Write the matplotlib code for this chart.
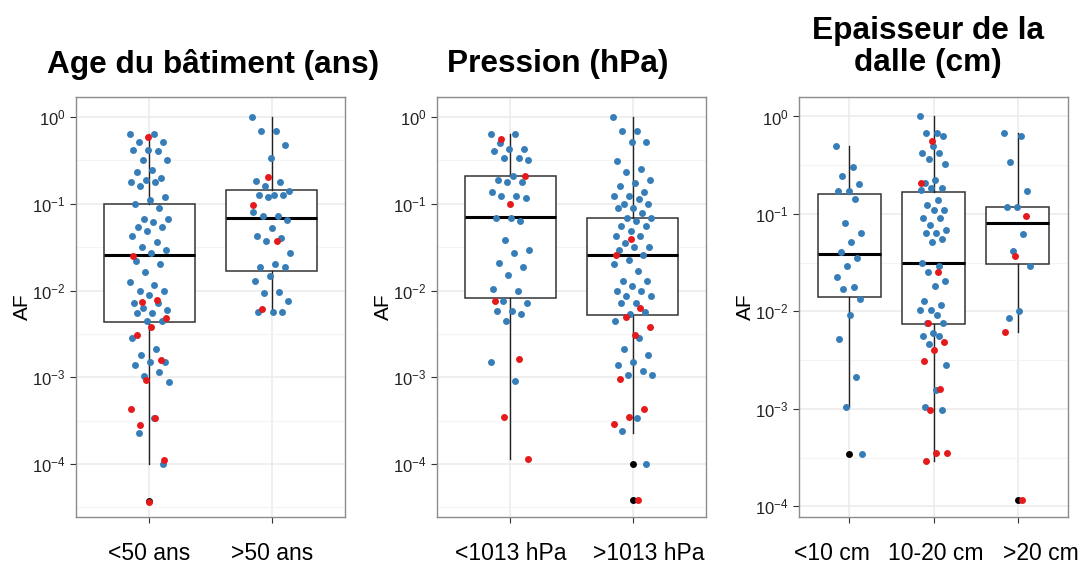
import numpy as np
import matplotlib
matplotlib.use("Agg")
import matplotlib.pyplot as plt
from matplotlib.ticker import FixedLocator, LogFormatterSciNotation, NullFormatter

plt.rcParams['font.family'] = ['Liberation Sans', 'DejaVu Sans']
plt.rcParams['mathtext.default'] = 'regular'
plt.rcParams['axes.unicode_minus'] = False

BLUE = "#377EB8"
RED = "#E41A1C"

# ---- Age du batiment
age_labels = ["<50 ans", ">50 ans"]
age_blue = [
    [0.63, 0.63, 0.52, 0.52, 0.42, 0.42, 0.40, 0.32, 0.32, 0.245, 0.23, 0.20, 0.19, 0.18, 0.18,
     0.158, 0.118, 0.110, 0.10, 0.089, 0.066, 0.066, 0.062, 0.054, 0.054, 0.048, 0.042, 0.036,
     0.032, 0.029, 0.027, 0.022, 0.020, 0.0165, 0.0126, 0.0115, 0.010, 0.010, 0.0089, 0.0071,
     0.0071, 0.0063, 0.0059, 0.0055, 0.0055, 0.0044, 0.0044, 0.0028, 0.0021, 0.0018, 0.0015,
     0.0015, 0.00138, 0.00115, 0.00103, 0.00089, 0.00034, 0.00023, 0.0001],
    [1.0, 0.68, 0.68, 0.48, 0.34, 0.184, 0.177, 0.162, 0.14, 0.126, 0.126, 0.126, 0.12, 0.081,
     0.072, 0.072, 0.065, 0.052, 0.043, 0.040, 0.037, 0.027, 0.020, 0.0185, 0.0185, 0.0148,
     0.013, 0.0097, 0.0093, 0.0076, 0.0057, 0.0057, 0.0057],
]
age_red = [
    [0.58, 0.025, 0.0078, 0.0074, 0.0048, 0.0038, 0.0031, 0.0016, 0.00094, 0.00043, 0.00034,
     0.00028, 0.00011, 0.000037],
    [0.205, 0.097, 0.037, 0.0061],
]
age_outliers = [[0.000038], []]
# whislo, q1, median, q3, whishi
age_box = [(0.0001, 0.0043, 0.0254, 0.098, 0.63),
           (0.0056, 0.017, 0.069, 0.145, 1.0)]

# ---- Pression
pres_labels = ["<1013 hPa", ">1013 hPa"]
pres_blue = [
    [0.63, 0.63, 0.50, 0.43, 0.43, 0.40, 0.335, 0.335, 0.315, 0.206, 0.19, 0.177, 0.177, 0.138,
     0.123, 0.123, 0.116, 0.068, 0.068, 0.064, 0.038, 0.029, 0.027, 0.021, 0.0186, 0.015,
     0.0105, 0.0098, 0.0075, 0.0072, 0.0058, 0.0058, 0.0054, 0.0045, 0.0015, 0.00091],
    [1.0, 0.68, 0.68, 0.52, 0.52, 0.31, 0.25, 0.235, 0.19, 0.173, 0.158, 0.138, 0.122, 0.122,
     0.112, 0.098, 0.098, 0.089, 0.089, 0.078, 0.068, 0.068, 0.063, 0.055, 0.055, 0.048, 0.042,
     0.042, 0.035, 0.032, 0.032, 0.0295, 0.026, 0.0227, 0.020, 0.0166, 0.0128, 0.0128, 0.0112,
     0.0098, 0.0098, 0.0086, 0.0086, 0.0072, 0.0072, 0.0056, 0.0053, 0.0045, 0.0028, 0.0021,
     0.0018, 0.0015, 0.0014, 0.00118, 0.00105, 0.00105, 0.00034, 0.00024, 0.0001],
]
pres_red = [
    [0.55, 0.21, 0.098, 0.0075, 0.00162, 0.00035, 0.000115],
    [0.039, 0.026, 0.0063, 0.0049, 0.0038, 0.0031, 0.00096, 0.00043, 0.00035, 0.00029, 0.000039],
]
pres_outliers = [[], [0.0001, 0.000039]]
pres_box = [(0.000115, 0.0083, 0.0697, 0.206, 0.63),
            (0.00023, 0.0052, 0.0257, 0.068, 1.0)]

# ---- Epaisseur de la dalle
dalle_labels = ["<10 cm", "10-20 cm", ">20 cm"]
dalle_blue = [
    [0.50, 0.30, 0.246, 0.203, 0.172, 0.172, 0.142, 0.081, 0.064, 0.051, 0.041, 0.035, 0.029,
     0.0224, 0.018, 0.017, 0.0133, 0.0092, 0.0052, 0.0021, 0.00105, 0.00034],
    [1.0, 0.67, 0.67, 0.63, 0.50, 0.42, 0.42, 0.37, 0.325, 0.223, 0.206, 0.183, 0.183, 0.176,
     0.14, 0.123, 0.11, 0.11, 0.091, 0.091, 0.077, 0.069, 0.063, 0.063, 0.055, 0.051, 0.0316,
     0.029, 0.0256, 0.0203, 0.0184, 0.0129, 0.0117, 0.0104, 0.0104, 0.0092, 0.0076, 0.0076,
     0.006, 0.0056, 0.0056, 0.0046, 0.0028, 0.00157, 0.00105, 0.00098],
    [0.68, 0.63, 0.34, 0.17, 0.117, 0.117, 0.062, 0.042, 0.029, 0.0102, 0.0085],
]
dalle_red = [
    [],
    [0.565, 0.206, 0.0256, 0.0076, 0.0048, 0.004, 0.0031, 0.0016, 0.00098, 0.00035, 0.00035,
     0.00029],
    [0.095, 0.037, 0.0062, 0.000115],
]
dalle_outliers = [[0.00034], [], [0.000115]]
dalle_box = [(0.00105, 0.0142, 0.039, 0.162, 0.50),
             (0.00029, 0.0074, 0.0316, 0.167, 1.0),
             (0.0062, 0.031, 0.080, 0.117, 0.68)]

panels = [
    (age_labels, age_blue, age_red, age_outliers, age_box, (-4.61, 0.23)),
    (pres_labels, pres_blue, pres_red, pres_outliers, pres_box, (-4.61, 0.23)),
    (dalle_labels, dalle_blue, dalle_red, dalle_outliers, dalle_box, (-4.11, 0.20)),
]
lefts = [76, 437, 799]
# horizontal nudge of the x labels, pixels (labels sit off-centre in the original)
label_shift = [[0, 0], [0, 16], [-17, 2, 23]]
titles = [("Age du bâtiment (ans)", 213, 64),
          ("Pression (hPa)", 558, 64),
          ("Epaisseur de la\ndalle (cm)", 928, 47)]

W, H = 1083, 565
fig = plt.figure(figsize=(W / 100, H / 100), dpi=100)


def jitter(n, start, w):
    # deterministic spread, stands in for ggplot's geom_jitter
    k = np.arange(start, start + n)
    return ((k * 0.618034) % 1 - 0.5) * 2 * w


for (labels, blue, red, outl, box, ylim), left, shifts in zip(panels, lefts, label_shift):
    ax = fig.add_axes([left / W, (H - 517) / H, 269 / W, 420 / H])
    ax.set_yscale('log')
    n = len(labels)
    pos = np.arange(1, n + 1)
    stats = [dict(whislo=b[0], q1=b[1], med=b[2], q3=b[3], whishi=b[4], fliers=[]) for b in box]
    ax.bxp(stats, positions=pos, widths=0.75, showfliers=False, showcaps=False,
           patch_artist=True,
           boxprops=dict(facecolor='white', edgecolor='#333333', linewidth=1.1),
           medianprops=dict(color='black', linewidth=2.2),
           whiskerprops=dict(color='#222222', linewidth=1.0), zorder=2)
    for p, o in zip(pos, outl):
        if o:
            ax.scatter([p] * len(o), o, s=25, color='black', zorder=3, linewidths=0)
    for p, b, r in zip(pos, blue, red):
        ax.scatter(p + jitter(len(b), 0, 0.16), b, s=25, color=BLUE, zorder=4, linewidths=0)
        ax.scatter(p + jitter(len(r), len(b), 0.16), r, s=25, color=RED, zorder=5, linewidths=0)

    ax.set_xlim(0.4, n + 0.6)
    ax.set_ylim(10 ** ylim[0], 10 ** ylim[1])
    ax.set_xticks(pos)
    ax.set_xticklabels([''] * n)
    for p, lab, dx in zip(pos, labels, shifts):
        ax.annotate(lab, xy=(p, 0), xycoords=('data', 'axes fraction'),
                    xytext=(dx * 0.72, -36 * 0.72), textcoords='offset points',
                    ha='center', va='center', fontsize=16.5, annotation_clip=False)
    ax.yaxis.set_major_locator(FixedLocator([1e-4, 1e-3, 1e-2, 1e-1, 1]))
    ax.yaxis.set_major_formatter(LogFormatterSciNotation())
    ax.yaxis.set_minor_locator(FixedLocator([10 ** (k + 0.5) for k in range(-5, 1)]))
    ax.yaxis.set_minor_formatter(NullFormatter())
    ax.tick_params(axis='y', which='major', labelsize=12, length=4, color='#333333', labelcolor='#222222')
    ax.tick_params(axis='x', which='major', length=4, color='#333333')
    ax.tick_params(which='minor', length=0)
    ax.grid(True, which='major', color='#EBEBEB', linewidth=1.1, zorder=0)
    ax.grid(True, which='minor', axis='y', color='#F4F4F4', linewidth=0.8, zorder=0)
    ax.set_axisbelow(True)
    for s in ax.spines.values():
        s.set_color('#8C8C8C')
        s.set_linewidth(1.0)
    ax.set_ylabel('AF', fontsize=15)
    ax.yaxis.set_label_coords(-0.165, 0.5)

for text, x, y in titles:
    fig.text(x / W, 1 - y / H, text, ha='center', va='center', fontsize=22.8,
             fontweight='bold', linespacing=1.12)

fig.savefig('out.png', dpi=100)
